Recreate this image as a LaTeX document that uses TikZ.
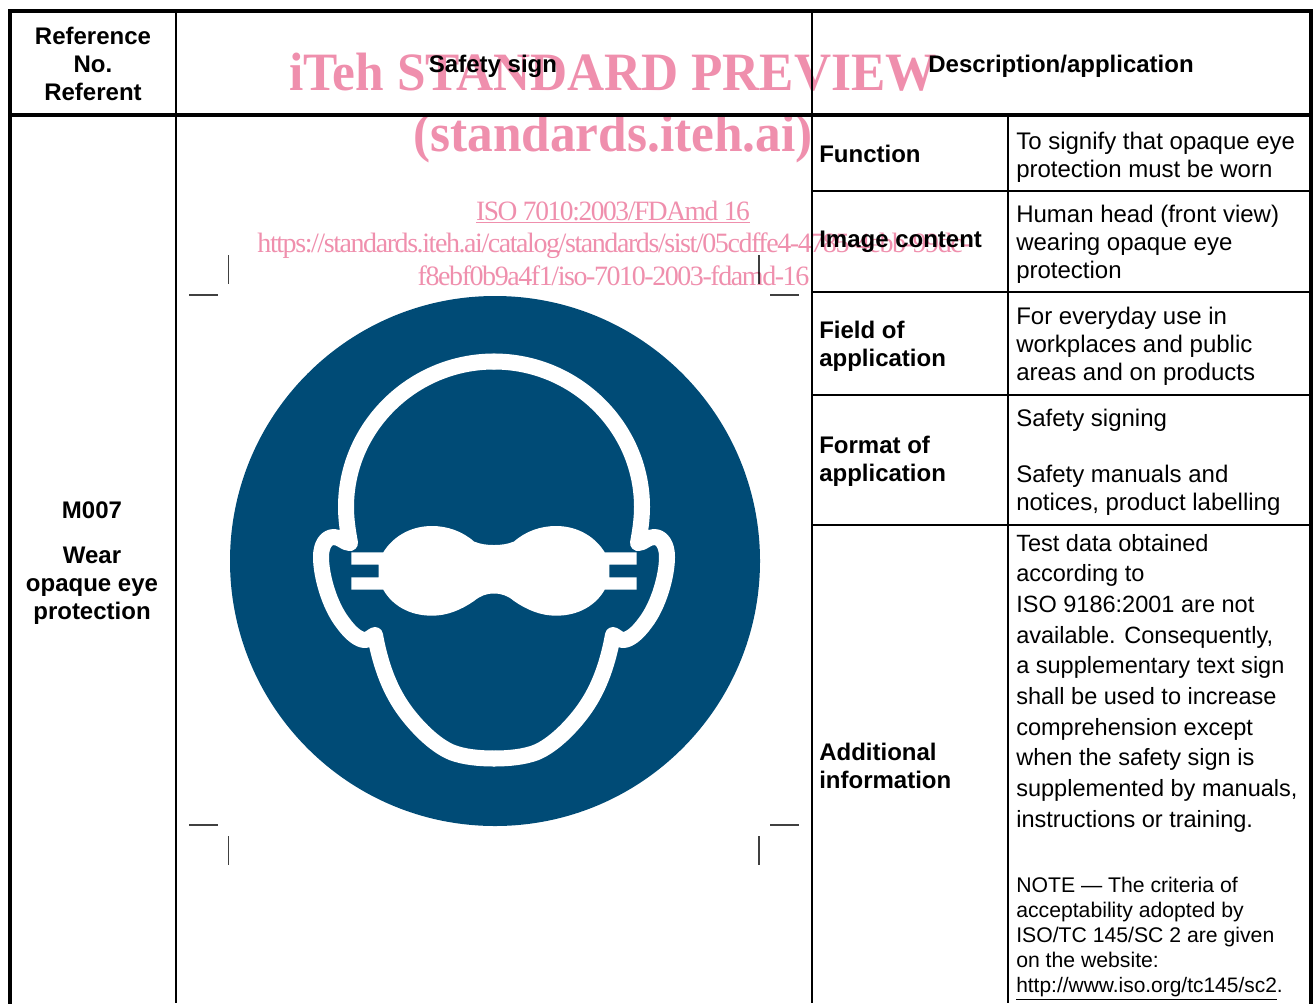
\documentclass[tikz,border=0pt]{standalone}
\usepackage{fontspec}
\setmainfont{Liberation Sans}
\newfontfamily\wmfont{Liberation Serif}
\newfontfamily\wmtight[LetterSpace=-5.1]{Liberation Serif}
\definecolor{signblue}{HTML}{004B76}
\definecolor{wmpink}{HTML}{EF8FAD}
\newcommand{\headhalf}{
  (0,361.5) .. controls (-81,361.5) and (-148,427) .. (-148,507)
  .. controls (-148,520) and (-146,532) .. (-144,543)
  .. controls (-150,543) and (-153,537) .. (-160,537)
  .. controls (-168,537) and (-173,545) .. (-173,557)
  .. controls (-173,575) and (-165,605) .. (-151,623)
  .. controls (-143,634) and (-135,640) .. (-129,640)
  .. controls (-125,640) and (-122,636) .. (-119,635)
  .. controls (-113,668) and (-103,692) .. (-89,711)
  .. controls (-78,726) and (-60,745) .. (-42,752.5)
  .. controls (-30,757) and (-15,758.5) .. (0,758.5)
}
\newcommand{\gogglehalf}{
  (0,545) .. controls (-8,545) and (-14,544) .. (-20,541.5)
  .. controls (-32,531) and (-47,526) .. (-62,526)
  .. controls (-85,526) and (-102,538) .. (-110.7,552.3)
  -- (-142.7,552.3) -- (-142.7,564.7) -- (-115.3,564.7) -- (-115.3,577.3)
  -- (-142.7,577.3) -- (-142.7,589.7) -- (-110.7,589.7)
  .. controls (-102,605) and (-85,615.7) .. (-62,615.7)
  .. controls (-47,615.7) and (-33,610) .. (-20,601)
  .. controls (-14,596) and (-8,593.5) .. (0,593.5) -- cycle
}
\tikzset{
  thick rule/.style={line width=3pt,line cap=rect},
  thin rule/.style={line width=1.6pt},
  crop/.style={line width=0.9pt,draw=black!75},
  hd/.style={font=\fontsize{18}{21}\selectfont\bfseries,align=center,inner sep=0pt},
  lab/.style={font=\fontsize{18}{21}\selectfont\bfseries,align=left,anchor=west,inner sep=0pt},
  body/.style={font=\fontsize{18}{21}\selectfont,align=left,anchor=west,inner sep=0pt},
  bodyw/.style={font=\fontsize{17.65}{23}\selectfont,align=left,anchor=west,inner sep=0pt},
  small/.style={font=\fontsize{15.9}{18.75}\selectfont,align=left,anchor=west,inner sep=0pt},
  wmbig/.style={font=\fontsize{40.5}{48}\wmfont\bfseries,text=wmpink,inner sep=0pt,anchor=base,xscale=0.951},
  wmsmall/.style={font=\fontsize{21}{24}\wmtight,text=wmpink,inner sep=0pt,anchor=base},
}
\begin{document}
\begin{tikzpicture}[x=0.75pt,y=-0.75pt]
\useasboundingbox (0,0) rectangle (1316,1003);
% sign
\fill[signblue] (495,561) circle[radius=265];
\begin{scope}[shift={(494,0)}]
  \draw[white,line width=12pt,line cap=round,line join=round] \headhalf;
  \fill[white] \gogglehalf;
\end{scope}
\begin{scope}[shift={(494,0)},xscale=-1]
  \draw[white,line width=12pt,line cap=round,line join=round] \headhalf;
  \fill[white] \gogglehalf;
\end{scope}
% crop marks
\draw[crop] (189,295) -- (218,295);
\draw[crop] (228.5,255) -- (228.5,284);
\draw[crop] (770,295) -- (799,295);
\draw[crop] (759,255) -- (759,284);
\draw[crop] (189,825) -- (218,825);
\draw[crop] (228.5,836) -- (228.5,865);
\draw[crop] (770,825) -- (799,825);
\draw[crop] (759,836) -- (759,865);
% rules
\draw[thick rule] (10,1003) -- (10,11) -- (1311,11) -- (1311,1003);
\draw[thick rule] (10,115) -- (1311,115);
\draw[thin rule] (176,11) -- (176,1003);
\draw[thin rule] (812,11) -- (812,1003);
\draw[thin rule] (1008,115) -- (1008,1003);
\draw[thin rule] (812,191) -- (1311,191);
\draw[thin rule] (812,292) -- (1311,292);
\draw[thin rule] (812,395) -- (1311,395);
\draw[thin rule] (812,525) -- (1311,525);
% header
\node[hd] (h1) at (93,64) {Reference\\No.\\Referent};
\node[hd] (h2) at (493,66) {Safety sign};
\node[hd] (h3) at (1061,66) {Description/application};
\node[hd] (m1) at (92,510) {M007};
\node[hd] (m2) at (92,586) {Wear\\opaque eye\\protection};
% labels
\node[lab] (l1) at (819,154) {Function};
\node[lab] (l2) at (819,242) {Image content};
\node[lab] (l3) at (819,346) {Field of\\application};
\node[lab] (l4) at (819,461) {Format of\\application};
\node[lab] (l5) at (819,766) {Additional\\information};
% descriptions
\node[body] (d1) at (1016,157) {To signify that opaque eye\\protection must be worn};
\node[body] (d2) at (1016,244) {Human head (front view)\\wearing opaque eye\\protection};
\node[body] (d3) at (1016,346) {For everyday use in\\workplaces and public\\areas and on products};
\node[body] (d4a) at (1016,420) {Safety signing};
\node[body] (d4b) at (1016,490) {Safety manuals and\\notices, product labelling};
\node[bodyw] (d5) at (1016,683) {Test data obtained\\according to\\ISO 9186:2001 are not\\available. Consequently,\\a supplementary text sign\\shall be used to increase\\comprehension except\\when the safety sign is\\supplemented by manuals,\\instructions or training.};
\node[small] (d6) at (1016,938.5) {NOTE — The criteria of\\acceptability adopted by\\ISO/TC 145/SC 2 are given\\on the website:\\\fontsize{15.7}{18.75}\selectfont\underline{http://www.iso.org/tc145/sc2}.};
% watermark
\begin{scope}[blend mode=multiply]
\node[wmbig] (w1) at (613,90.5) {iTeh STANDARD PREVIEW};
\node[wmbig] (w2) at (613,151) {(standards.iteh.ai)};
\node[wmsmall,xscale=0.98] (w3) at (613,220) {\underline{ISO 7010:2003/FDAmd 16}};
\node[wmsmall] (w4) at (614,252.5) {https://standards.iteh.ai/catalog/standards/sist/05cdffe4-4785-4ebb-99dc-};
\node[wmsmall] (w5) at (613.5,285) {f8ebf0b9a4f1/iso-7010-2003-fdamd-16};
\end{scope}
\end{tikzpicture}
\end{document}
